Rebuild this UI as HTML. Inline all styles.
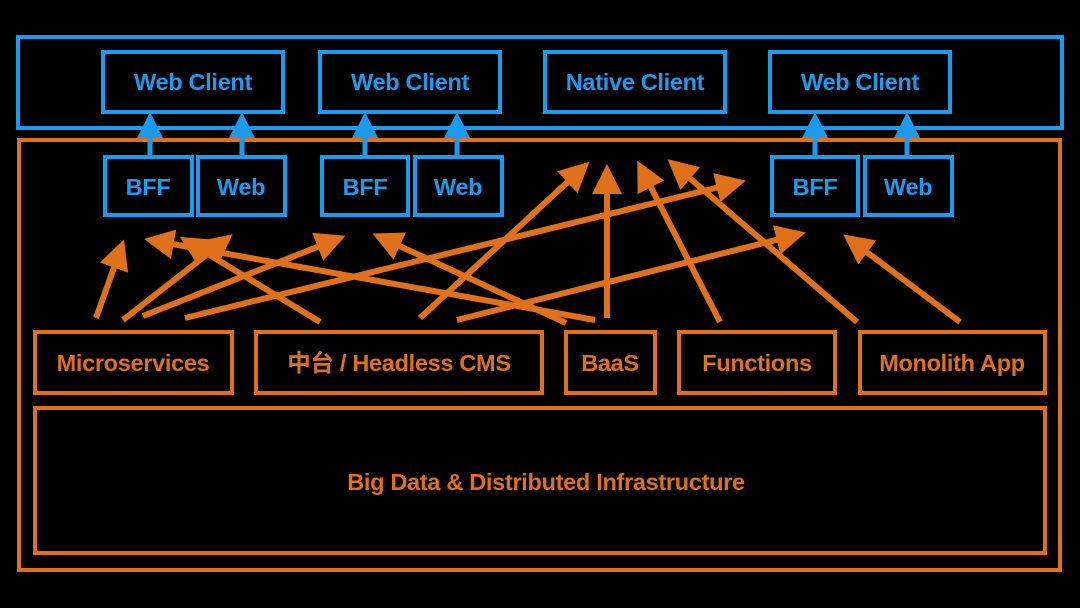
<!DOCTYPE html>
<html><head><style>
html,body{margin:0;padding:0;background:#000;}
svg{display:block}
text{font-family:"Liberation Sans","Noto Sans CJK SC",sans-serif;font-weight:bold;text-anchor:middle;dominant-baseline:central;letter-spacing:-0.3px}
</style></head><body>
<svg width="1080" height="608" viewBox="0 0 1080 608" xmlns="http://www.w3.org/2000/svg">
<defs>
<marker id="oa" markerWidth="5" markerHeight="5" refX="4" refY="2.5" orient="auto" markerUnits="strokeWidth" viewBox="0 0 5 5"><path d="M0,0 L5,2.5 L0,5 z" fill="#e0701a"/></marker>
</defs>
<rect width="1080" height="608" fill="#000"/>
<g fill="none" stroke="#1a9bf0" stroke-width="4">
<rect x="18" y="37" width="1044" height="91"/>
<rect x="103" y="52" width="180" height="60"/>
<rect x="320" y="52" width="180" height="60"/>
<rect x="545" y="52" width="180" height="60"/>
<rect x="770" y="52" width="180" height="60"/>
</g>
<g fill="none" stroke="#e0701a" stroke-width="4">
<rect x="19" y="140" width="1041" height="430"/>
<rect x="35" y="332" width="197" height="61"/>
<rect x="256" y="332" width="286" height="61"/>
<rect x="566" y="332" width="89" height="61"/>
<rect x="679" y="332" width="156" height="61"/>
<rect x="860" y="332" width="185" height="61"/>
<rect x="35" y="408" width="1010" height="145"/>
</g>
<g fill="#000" stroke="#1a9bf0" stroke-width="4">
<rect x="105" y="157" width="87" height="58"/>
<rect x="198" y="157" width="87" height="58"/>
<rect x="322" y="157" width="86" height="58"/>
<rect x="415" y="157" width="87" height="58"/>
<rect x="772" y="157" width="86" height="58"/>
<rect x="865" y="157" width="87" height="58"/>
</g>
<g stroke="#1a9bf0" stroke-width="5" fill="#1a9bf0">
<line x1="150" y1="155" x2="150" y2="130"/><path d="M137,138 L150,112 L163,138z" stroke="none"/>
<line x1="242" y1="155" x2="242" y2="130"/><path d="M229,138 L242,112 L255,138z" stroke="none"/>
<line x1="365" y1="155" x2="365" y2="130"/><path d="M352,138 L365,112 L378,138z" stroke="none"/>
<line x1="457" y1="155" x2="457" y2="130"/><path d="M444,138 L457,112 L470,138z" stroke="none"/>
<line x1="815" y1="155" x2="815" y2="130"/><path d="M802,138 L815,112 L828,138z" stroke="none"/>
<line x1="907" y1="155" x2="907" y2="130"/><path d="M894,138 L907,112 L920,138z" stroke="none"/>
</g>
<g stroke="#e0701a" stroke-width="6" marker-end="url(#oa)" fill="none">
<line x1="96" y1="318" x2="122" y2="245"/>
<line x1="123" y1="320" x2="228" y2="238"/>
<line x1="143" y1="316" x2="340" y2="238"/>
<line x1="185" y1="318" x2="740" y2="182"/>
<line x1="320" y1="322" x2="185" y2="240"/>
<line x1="595" y1="320" x2="150" y2="240"/>
<line x1="566" y1="323" x2="378" y2="236"/>
<line x1="420" y1="318" x2="585" y2="166"/>
<line x1="457" y1="320" x2="800" y2="234"/>
<line x1="607" y1="318" x2="607" y2="170"/>
<line x1="720" y1="322" x2="640" y2="166"/>
<line x1="857" y1="322" x2="672" y2="163"/>
<line x1="960" y1="322" x2="848" y2="238"/>
</g>
<g fill="#1a9bf0" font-size="23.5">
<text x="193" y="82">Web Client</text>
<text x="410" y="82">Web Client</text>
<text x="635" y="82">Native Client</text>
<text x="860" y="82">Web Client</text>
<text x="148" y="187">BFF</text>
<text x="241" y="187">Web</text>
<text x="365" y="187">BFF</text>
<text x="458" y="187">Web</text>
<text x="815" y="187">BFF</text>
<text x="908" y="187">Web</text>
</g>
<g fill="#e0701a" font-size="23.5">
<text x="133" y="363">Microservices</text>
<text x="399" y="363">中台 / Headless CMS</text>
<text x="610" y="363">BaaS</text>
<text x="757" y="363">Functions</text>
<text x="952" y="363">Monolith App</text>
<text x="546" y="482">Big Data &amp; Distributed Infrastructure</text>
</g>
</svg>
</body></html>
